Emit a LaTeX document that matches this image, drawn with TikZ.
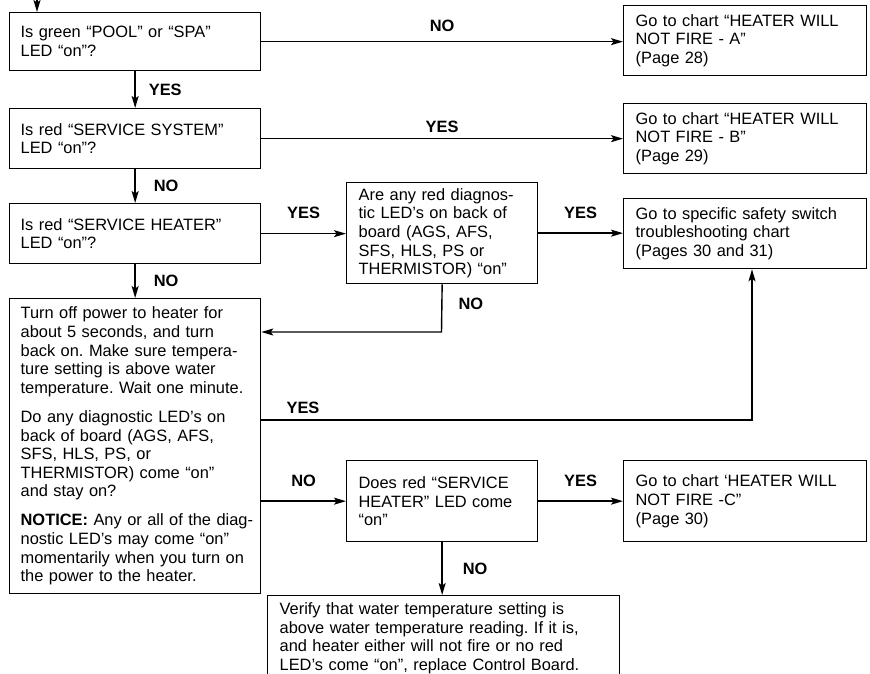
\documentclass[tikz,border=0pt]{standalone}
\usepackage{fontspec}
\setmainfont{Liberation Sans}
\usepackage{tikz}
\usetikzlibrary{arrows.meta,positioning}
\frenchspacing
\newcommand{\boxfont}{\fontsize{16.4}{18.6}\selectfont}
\newcommand{\lblfont}{\fontsize{16.4}{18}\selectfont\bfseries}
\tikzset{
  box/.style={draw,line width=1.3pt,anchor=north west,align=left,
    inner xsep=12pt,inner ysep=0pt,font=\boxfont},
  leftbox/.style={box,inner xsep=11pt,text width=229pt},
  rightbox/.style={box,text width=219pt},
  midbox/.style={box,text width=167pt},
  lbl/.style={font=\lblfont,inner sep=1pt}
}

\begin{document}
\begin{tikzpicture}[x=1pt,y=-1pt,>={Stealth[length=12pt,width=7pt,inset=2.5pt]},line width=1.4pt]
  \useasboundingbox (0,0) rectangle (870,673);
  \node (pool) [leftbox,minimum height=58pt] at (9,12)
     {Is green “POOL” or “SPA”\\LED “on”?};
  \node (fireA) [rightbox,minimum height=70pt] at (623,5)
     {Go to chart “HEATER WILL\\NOT FIRE - A”\\(Page 28)};
  \node (sys) [leftbox,minimum height=60pt] at (9,108)
     {Is red “SERVICE SYSTEM”\\LED “on”?};
  \node (fireB) [rightbox,minimum height=70pt] at (623,103)
     {Go to chart “HEATER WILL\\NOT FIRE - B”\\(Page 29)};
  \node (heat) [leftbox,minimum height=60pt] at (9,203)
     {Is red “SERVICE HEATER”\\LED “on”?};
  \node (diag) [midbox,minimum height=101pt] at (346,182)
     {Are any red diagnos-\\tic LED’s on back of\\board (AGS, AFS,\\SFS, HLS, PS or\\THERMISTOR) “on”};
  \node (safety) [rightbox,minimum height=70pt] at (623,198)
     {Go to specific safety switch\\troubleshooting chart\\(Pages 30 and 31)};
  \node (reset) [leftbox,minimum height=295pt] at (9,298)
     {\mbox{Turn off power to heater for}\\about 5 seconds, and turn\\back on. Make sure tempera-\\ture setting is above water\\\mbox{temperature. Wait one minute.}\\[10.5pt]
      Do any diagnostic LED’s on\\back of board (AGS, AFS,\\SFS, HLS, PS, or\\THERMISTOR) come “on”\\and stay on?\\[10.5pt]
      \mbox{\textbf{NOTICE:} Any or all of the diag-}\\nostic LED’s may come “on”\\\mbox{momentarily when you turn on}\\the power to the heater.};
  \node (ledc) [midbox,minimum height=81pt] at (346,460)
     {Does red “SERVICE\\HEATER” LED come\\“on”};
  \node (fireC) [rightbox,minimum height=81pt] at (623,460)
     {Go to chart ‘HEATER WILL\\NOT FIRE -C”\\(Page 30)};
  \node (verify) [box,text width=328pt,inner ysep=7pt] at (267,595)
     {Verify that water temperature setting is\\above water temperature reading. If it is,\\and heater either will not fire or no red\\LED’s come “on”, replace Control Board.};
  \coordinate (entry) at (37,0);
  \coordinate (turn) at (441.5,332);
  \coordinate (yesturn) at (752,420);
  \draw[->] (entry) -- (entry |- pool.north);
  \draw[->] (pool.east) -- node[lbl,above=8pt]{NO} (pool.east -| fireA.west);
  \draw[->] (pool) -- node[lbl,right=12pt]{YES} (sys);
  \draw[->] (sys) -- node[lbl,above=4pt]{YES} (fireB);
  \draw[->] (sys) -- node[lbl,right=17pt]{NO} (heat);
  \draw[->] (heat.east) -- node[lbl,above=13pt]{YES} (heat.east -| diag.west);
  \draw[->] (diag.east) -- node[lbl,above=13pt]{YES} (diag.east -| safety.west);
  \draw[->] (heat) -- node[lbl,right=17pt]{NO} (reset);
  \draw[->] (diag.south) -- node[lbl,right=15pt,pos=0.4]{NO} (turn) -- (turn -| reset.east);
  \draw[->] (yesturn -| reset.east) -- node[lbl,above=5pt,pos=0.085]{YES} (yesturn) -- (yesturn |- safety.south);
  \draw[->] (reset.east |- ledc.west) -- node[lbl,above=13pt]{NO} (ledc.west);
  \draw[->] (ledc) -- node[lbl,above=13pt]{YES} (fireC);
  \draw[->] (ledc.south) -- node[lbl,right=19pt]{NO} (ledc.south |- verify.north);
\end{tikzpicture}
\end{document}
